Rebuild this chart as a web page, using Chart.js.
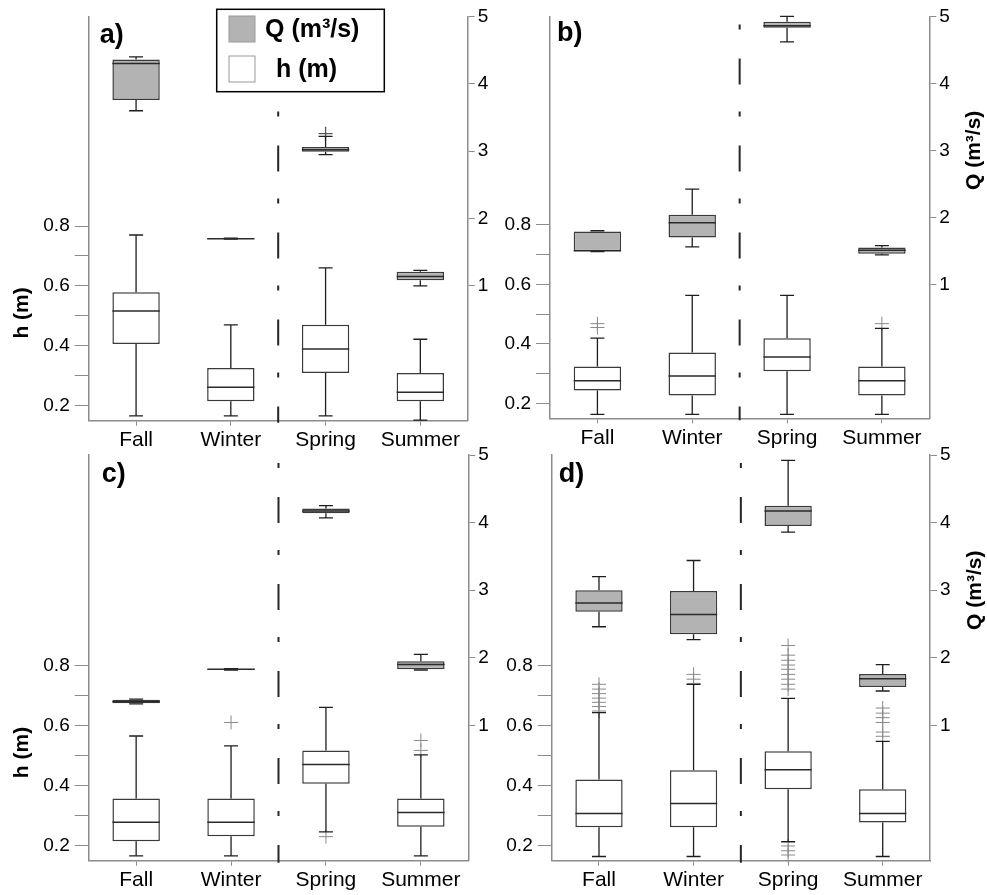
<!DOCTYPE html>
<html>
<head>
<meta charset="utf-8">
<script src="https://cdn.jsdelivr.net/npm/chart.js@4.4.0/dist/chart.umd.min.js"></script>
<style>
  html, body { margin: 0; padding: 0; background: #fff; }
  #wrap { position: relative; width: 987px; height: 895px; }
  #wrap canvas { position: absolute; left: 0; top: 0; }
</style>
</head>
<body>
<div id="wrap">
  <canvas id="pa" width="987" height="895"></canvas>
  <canvas id="pb" width="987" height="895"></canvas>
  <canvas id="pc" width="987" height="895"></canvas>
  <canvas id="pd" width="987" height="895"></canvas>
</div>
<script>
const seasons = ['Fall', 'Winter', 'Spring', 'Summer'];
const hTicks = [0.2, 0.3, 0.4, 0.5, 0.6, 0.7, 0.8];
const qTicks = [1, 2, 3, 4, 5];

// each row: [min, q1, median, q3, max] for Fall, Winter, Spring, Summer
const aQ = [[3.60, 3.76, 4.30, 4.36, 4.40], [1.695, 1.70, 1.70, 1.705, 1.71], [2.95, 2.99, 3.02, 3.06, 3.22], [1.00, 1.085, 1.14, 1.21, 1.23]];
const aH = [[0.166, 0.406, 0.516, 0.579, 0.770], [0.166, 0.215, 0.262, 0.326, 0.470], [0.166, 0.309, 0.389, 0.470, 0.660], [0.152, 0.215, 0.245, 0.309, 0.422]];
const aQOut = [[], [], [3.26], []];
const aHOut = [[], [], [], []];

const bQ = [[1.49, 1.495, 1.50, 1.79, 1.80], [1.56, 1.70, 1.92, 2.04, 2.42], [4.62, 4.83, 4.86, 4.92, 5.00], [1.44, 1.455, 1.51, 1.55, 1.578]];
const bH = [[0.163, 0.243, 0.276, 0.324, 0.419], [0.163, 0.227, 0.292, 0.371, 0.563], [0.163, 0.308, 0.356, 0.419, 0.563], [0.163, 0.227, 0.276, 0.324, 0.452]];
const bQOut = [[], [], [], []];
const bHOut = [[0.455, 0.468], [], [], [0.468]];

const cQ = [[1.32, 1.33, 1.35, 1.38, 1.39], [1.82, 1.825, 1.83, 1.835, 1.84], [4.07, 4.14, 4.17, 4.21, 4.25], [1.82, 1.83, 1.90, 1.95, 2.05]];
const cH = [[0.166, 0.215, 0.278, 0.357, 0.565], [0.166, 0.231, 0.278, 0.357, 0.532], [0.246, 0.406, 0.470, 0.517, 0.660], [0.166, 0.263, 0.310, 0.357, 0.502]];
const cQOut = [[], [], [], []];
const cHOut = [[], [0.61], [0.23], [0.517, 0.55]];

const dQ = [[2.46, 2.68, 2.81, 3.00, 3.20], [2.27, 2.35, 2.64, 2.99, 3.44], [3.86, 3.95, 4.17, 4.25, 4.92], [1.51, 1.57, 1.69, 1.76, 1.90]];
const dH = [[0.164, 0.261, 0.307, 0.420, 0.643], [0.164, 0.261, 0.340, 0.451, 0.737], [0.213, 0.388, 0.453, 0.514, 0.690], [0.164, 0.277, 0.307, 0.388, 0.547]];
const dQOut = [[], [], [], []];
const dHOut = [
  [0.648, 0.663, 0.677, 0.691, 0.706, 0.721, 0.737],
  [0.740, 0.754, 0.770],
  [0.721, 0.737, 0.754, 0.770, 0.787, 0.801, 0.817, 0.834, 0.866, 0.199, 0.183, 0.169],
  [0.564, 0.578, 0.610, 0.626, 0.641, 0.658]
];

const PW = 987, PH = 895;
const FONT = '"Liberation Sans", Arial, sans-serif';
const AXIS = '#8c8c8c';

// chart area [left, top, right, bottom] of each panel
const panels = [
  { id: 'pa', tag: 'a)', Q: aQ, H: aH, qOut: aQOut, hOut: aHOut, area: [88.7, 15, 467.7, 420.7], tagX: 11, tagY: 27, hTitle: true, qTitle: false, legend: true },
  { id: 'pb', tag: 'b)', Q: bQ, H: bH, qOut: bQOut, hOut: bHOut, area: [550, 12.7, 929.3, 418.3], tagX: 7, tagY: 25, hTitle: false, qTitle: true, legend: false },
  { id: 'pc', tag: 'c)', Q: cQ, H: cH, qOut: cQOut, hOut: cHOut, area: [88.7, 455, 468.3, 860.7], tagX: 13, tagY: 27, hTitle: true, qTitle: false, legend: false },
  { id: 'pd', tag: 'd)', Q: dQ, H: dH, qOut: dQOut, hOut: dHOut, area: [551.7, 455, 930, 860.7], tagX: 7, tagY: 27, hTitle: false, qTitle: true, legend: false }
];

// whiskers, medians, separator, titles and legend
const boxPlugin = {
  id: 'boxes',
  beforeDatasetsDraw(chart) {
    const ctx = chart.ctx, xs = chart.scales.x, a = chart.chartArea;
    const sx = (xs.getPixelForValue(1) + xs.getPixelForValue(2)) / 2;
    ctx.save();
    ctx.strokeStyle = '#262626';
    ctx.lineWidth = 2;
    ctx.setLineDash([5, 29, 26, 27]);
    ctx.beginPath();
    ctx.moveTo(sx, a.top + 8);
    ctx.lineTo(sx, a.bottom + 2);
    ctx.stroke();
    ctx.restore();
  },
  afterDatasetsDraw(chart, args, o) {
    const ctx = chart.ctx, xs = chart.scales.x, a = chart.chartArea;
    const half = xs.width / seasons.length * 0.25;
    const drawStats = (stats, ys) => {
      stats.forEach((s, i) => {
        const x = xs.getPixelForValue(i);
        const [mn, q1, md, q3, mx] = s.map(v => ys.getPixelForValue(v));
        ctx.strokeStyle = '#1e1e1e';
        ctx.lineWidth = 1.3;
        ctx.beginPath();
        ctx.moveTo(x, q3); ctx.lineTo(x, mx);
        ctx.moveTo(x - 7, mx); ctx.lineTo(x + 7, mx);
        ctx.moveTo(x, q1); ctx.lineTo(x, mn);
        ctx.moveTo(x - 7, mn); ctx.lineTo(x + 7, mn);
        ctx.stroke();
        ctx.strokeStyle = '#2a2a2a';
        ctx.lineWidth = 1.5;
        ctx.beginPath();
        ctx.moveTo(x - half, md); ctx.lineTo(x + half, md);
        ctx.stroke();
      });
    };
    ctx.save();
    drawStats(o.q, chart.scales.y2);
    drawStats(o.h, chart.scales.y);

    ctx.fillStyle = '#000';
    ctx.textAlign = 'left';
    ctx.textBaseline = 'alphabetic';
    ctx.font = 'bold 27px ' + FONT;
    ctx.fillText(o.tag, a.left + o.tagX, a.top + o.tagY);

    ctx.font = 'bold 21px ' + FONT;
    ctx.textAlign = 'center';
    ctx.textBaseline = 'middle';
    if (o.hTitle) {
      ctx.save();
      ctx.translate(a.left - 66, chart.scales.y.getPixelForValue(0.51));
      ctx.rotate(-Math.PI / 2);
      ctx.fillText('h (m)', 0, 0);
      ctx.restore();
    }
    if (o.qTitle) {
      ctx.save();
      ctx.translate(a.right + 45, chart.scales.y2.getPixelForValue(3.0));
      ctx.rotate(-Math.PI / 2);
      ctx.fillText('Q (m³/s)', 0, 0);
      ctx.restore();
    }

    if (o.legend) {
      ctx.fillStyle = '#fff';
      ctx.fillRect(216.7, 9.3, 167.6, 82.4);
      ctx.strokeStyle = '#000';
      ctx.lineWidth = 1.5;
      ctx.strokeRect(216.7, 9.3, 167.6, 82.4);
      ctx.fillStyle = '#b3b3b3';
      ctx.fillRect(229, 16, 26, 26);
      ctx.strokeStyle = '#9a9a9a';
      ctx.lineWidth = 1;
      ctx.strokeRect(229, 16, 26, 26);
      ctx.fillStyle = '#fff';
      ctx.fillRect(229, 56, 26, 26);
      ctx.strokeRect(229, 56, 26, 26);
      ctx.fillStyle = '#000';
      ctx.font = 'bold 25px ' + FONT;
      ctx.textAlign = 'left';
      ctx.textBaseline = 'alphabetic';
      ctx.fillText('Q (m³/s)', 265, 37);
      ctx.fillText('h (m)', 276, 77);
    }
    ctx.restore();
  }
};

function outPoints(lists) {
  const pts = [];
  lists.forEach((arr, i) => arr.forEach(v => pts.push({ x: seasons[i], y: v })));
  return pts;
}

function makePanel(p) {
  const [L, T, R, B] = p.area;
  const tickFont = { family: FONT, size: 19 };
  new Chart(document.getElementById(p.id), {
    type: 'bar',
    data: {
      labels: seasons,
      datasets: [
        {
          label: 'Q (m³/s)', yAxisID: 'y2',
          data: p.Q.map(s => [s[1], s[3]]),
          backgroundColor: '#b3b3b3', borderColor: '#3a3a3a', borderWidth: 1.5,
          borderSkipped: false, grouped: false, barPercentage: 0.5, categoryPercentage: 1
        },
        {
          label: 'h (m)', yAxisID: 'y',
          data: p.H.map(s => [s[1], s[3]]),
          backgroundColor: '#ffffff', borderColor: '#3a3a3a', borderWidth: 1.5,
          borderSkipped: false, grouped: false, barPercentage: 0.5, categoryPercentage: 1
        },
        {
          type: 'line', yAxisID: 'y', data: outPoints(p.hOut), showLine: false, clip: false,
          pointStyle: 'cross', pointRadius: 7, pointBorderColor: '#8a8a8a', pointBorderWidth: 1
        },
        {
          type: 'line', yAxisID: 'y2', data: outPoints(p.qOut), showLine: false, clip: false,
          pointStyle: 'cross', pointRadius: 7, pointBorderColor: '#555', pointBorderWidth: 1.3
        }
      ]
    },
    options: {
      responsive: false,
      animation: false,
      events: [],
      layout: { padding: { top: T, left: 0, right: 0, bottom: 0 } },
      plugins: {
        legend: { display: false },
        tooltip: { enabled: false },
        boxes: { q: p.Q, h: p.H, tag: p.tag, tagX: p.tagX, tagY: p.tagY, hTitle: p.hTitle, qTitle: p.qTitle, legend: p.legend }
      },
      scales: {
        x: {
          offset: true,
          grid: { offset: false, drawOnChartArea: false, tickLength: 5, color: AXIS },
          border: { color: AXIS, width: 1.5 },
          ticks: { font: { family: FONT, size: 21 }, color: '#000', padding: 2, maxRotation: 0 },
          afterFit: s => { s.height = PH - B; }
        },
        y: {
          position: 'left', min: 0.15, max: 1.5,
          afterBuildTicks: s => { s.ticks = hTicks.map(v => ({ value: v })); },
          grid: { drawOnChartArea: false, tickLength: 14, color: AXIS },
          border: { color: AXIS, width: 1.5 },
          ticks: {
            font: tickFont, color: '#000', padding: 5,
            callback: v => { const r = Math.round(v * 10); return r % 2 === 0 ? (r / 10).toFixed(1) : ''; }
          },
          afterFit: s => { s.width = L; }
        },
        y2: {
          position: 'right', min: -1, max: 5,
          afterBuildTicks: s => { s.ticks = qTicks.map(v => ({ value: v })); },
          grid: { drawOnChartArea: false, tickLength: 7, color: AXIS },
          border: { color: AXIS, width: 1.5 },
          ticks: { font: tickFont, color: '#000', padding: 3, callback: v => String(v) },
          afterFit: s => { s.width = PW - R; }
        }
      }
    },
    plugins: [boxPlugin]
  });
}

panels.forEach(makePanel);
</script>
</body>
</html>
